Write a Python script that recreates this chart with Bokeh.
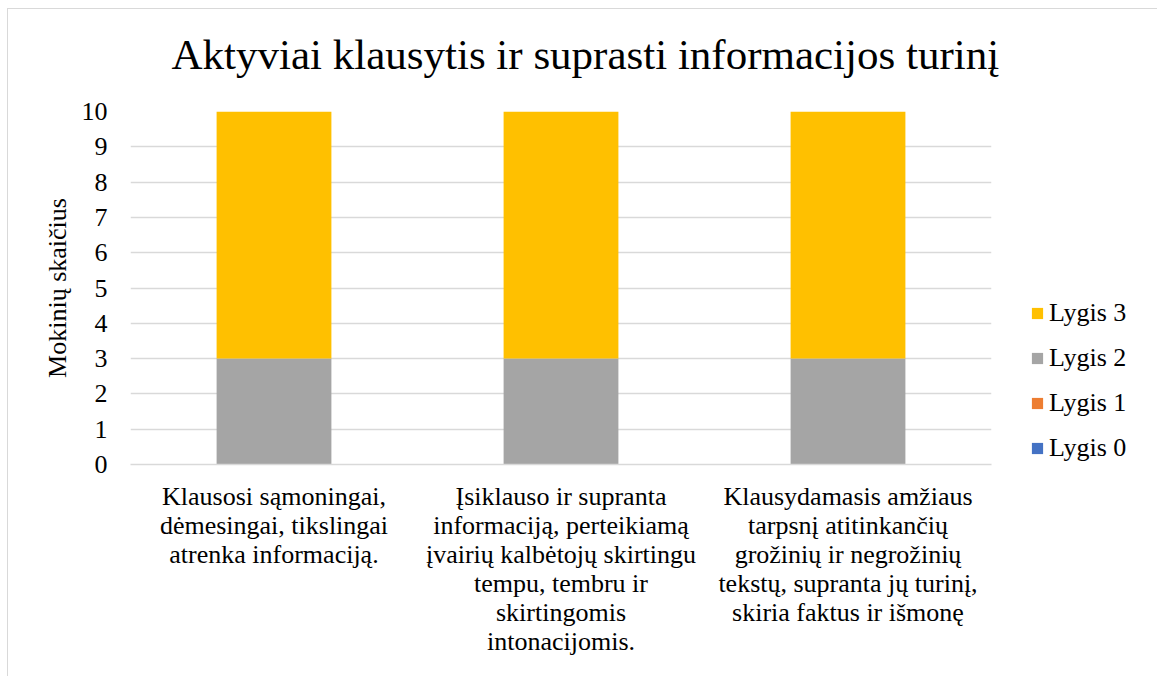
from bokeh.plotting import figure
from bokeh.models import FactorRange, Range1d, SingleIntervalTicker, Legend, LegendItem, Title
from bokeh.embed import file_html
from bokeh.resources import INLINE

categories = [
    "Klausosi sąmoningai,\ndėmesingai, tikslingai\natrenka informaciją.",
    "Įsiklauso ir supranta\ninformaciją, perteikiamą\nįvairių kalbėtojų skirtingu\ntempu, tembru ir\nskirtingomis\nintonacijomis.",
    "Klausydamasis amžiaus\ntarpsnį atitinkančių\ngrožinių ir negrožinių\ntekstų, supranta jų turinį,\nskiria faktus ir išmonę",
]
levels = ["Lygis 0", "Lygis 1", "Lygis 2", "Lygis 3"]
lygis0 = [0, 0, 0]
lygis1 = [0, 0, 0]
lygis2 = [3, 3, 3]
lygis3 = [7, 7, 7]
colors = ["#4472C4", "#ED7D31", "#A5A5A5", "#FFC000"]
title_text = "Aktyviai klausytis ir suprasti informacijos turinį"

FONT = "Liberation Serif"

data = {"cat": categories, "Lygis 0": lygis0, "Lygis 1": lygis1,
        "Lygis 2": lygis2, "Lygis 3": lygis3}

p = figure(x_range=FactorRange(*categories), y_range=Range1d(0, 10),
           frame_width=861, frame_height=353, output_backend="svg",
           toolbar_location=None,
           min_border_left=122, min_border_right=167, min_border_top=102,
           min_border_bottom=212)
p.title = None
p.margin = (8, 0, 0, 7)
p.styles = {"border-left": "1.5px solid #D9D9D9",
            "border-top": "1.5px solid #D9D9D9",
            "box-sizing": "border-box"}

rs = p.vbar_stack(levels, x="cat", width=0.4, color=colors, source=data,
                  line_color=None)

spacer = Title(text=" ", text_font=FONT, text_font_size="2px", standoff=13)
p.add_layout(spacer, "above")
t = Title(text=title_text,
          align="left", text_font=FONT, text_font_size="43px",
          text_font_style="normal", text_color="#000000", offset=41, standoff=33)
p.add_layout(t, "above")

p.outline_line_color = None
p.xgrid.grid_line_color = None
p.ygrid.grid_line_color = "#D9D9D9"
p.ygrid.grid_line_width = 1.5

p.yaxis.ticker = SingleIntervalTicker(interval=1)
p.yaxis.axis_line_color = None
p.yaxis.major_tick_line_color = None
p.yaxis.minor_tick_line_color = None
p.yaxis.major_label_text_font = FONT
p.yaxis.major_label_text_font_size = "26px"
p.yaxis.major_label_text_color = "#000000"
p.yaxis.major_label_standoff = 17
p.yaxis.axis_label = "Mokinių skaičius"
p.yaxis.axis_label_text_font = FONT
p.yaxis.axis_label_text_font_size = "26px"
p.yaxis.axis_label_text_font_style = "normal"
p.yaxis.axis_label_text_color = "#000000"
p.yaxis.axis_label_standoff = 7

p.xaxis.axis_line_color = "#D9D9D9"
p.xaxis.axis_line_width = 1.5
p.xaxis.major_tick_line_color = None
p.xaxis.minor_tick_line_color = None
p.xaxis.major_label_text_font = FONT
p.xaxis.major_label_text_font_size = "26px"
p.xaxis.major_label_text_color = "#000000"
p.xaxis.major_label_text_line_height = 1.0
p.xaxis.major_label_text_align = "center"
p.xaxis.major_label_standoff = 11

items = [LegendItem(label=levels[i], renderers=[rs[i]]) for i in [3, 2, 1, 0]]
legend = Legend(items=items, location=(39, 1), padding=0, margin=0,
                border_line_color=None, background_fill_alpha=0,
                glyph_width=14, glyph_height=14, label_standoff=5,
                label_height=30, spacing=15,
                label_text_font=FONT, label_text_font_size="26px",
                label_text_color="#000000")
p.add_layout(legend, "right")

open("out.html", "w").write(file_html(p, INLINE))
